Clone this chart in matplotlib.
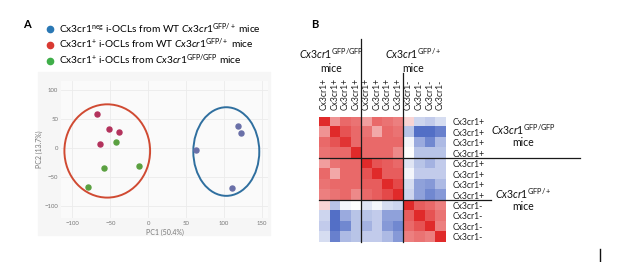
import numpy as np
import matplotlib
matplotlib.use("Agg")
import matplotlib.pyplot as plt
from matplotlib.patches import Ellipse, Rectangle
from matplotlib.lines import Line2D
from matplotlib.colors import LinearSegmentedColormap

plt.rcParams['font.family'] = ['Lato', 'DejaVu Sans']
plt.rcParams['mathtext.fontset'] = 'custom'
plt.rcParams['mathtext.rm'] = 'Lato'
plt.rcParams['mathtext.it'] = 'Lato:italic'
plt.rcParams['mathtext.bf'] = 'Lato:bold'

# --- panel A data (PCA scores) ---
neg_pc1 = [63, 118, 122, 110]
neg_pc2 = [-3, 38, 26, -69]
het_pc1 = [-68, -52, -38, -63]
het_pc2 = [58, 33, 28, 7]
ko_pc1 = [-42, -58, -12, -80]
ko_pc2 = [10, -34, -30, -67]
xticks_a = [-100, -50, 0, 50, 100, 150]
yticks_a = [-100, -50, 0, 50, 100]

# --- panel B data (correlation matrix) ---
row_labels = ['Cx3cr1+'] * 8 + ['Cx3cr1-'] * 4
col_labels = ['Cx3cr1+'] * 8 + ['Cx3cr1-'] * 4
corr = np.array([
    [1.00, 0.50, 0.70, 0.65, 0.45, 0.70, 0.65, 0.60, 0.20, -0.25, -0.30, -0.20],
    [0.50, 1.00, 0.80, 0.70, 0.65, 0.40, 0.70, 0.65, -0.35, -0.85, -0.85, -0.75],
    [0.70, 0.80, 0.95, 0.70, 0.70, 0.70, 0.70, 0.70, -0.05, -0.50, -0.70, -0.40],
    [0.65, 0.70, 0.70, 1.00, 0.70, 0.70, 0.70, 0.55, 0.00, -0.35, -0.35, -0.35],
    [0.45, 0.65, 0.70, 0.70, 1.00, 0.80, 0.75, 0.70, -0.15, -0.35, -0.45, -0.30],
    [0.70, 0.40, 0.70, 0.70, 0.80, 1.00, 0.75, 0.75, -0.05, -0.30, -0.30, -0.30],
    [0.65, 0.70, 0.70, 0.70, 0.75, 0.75, 1.00, 0.85, -0.20, -0.55, -0.60, -0.40],
    [0.60, 0.65, 0.70, 0.55, 0.70, 0.75, 0.85, 1.00, -0.25, -0.55, -0.70, -0.60],
    [0.20, -0.35, -0.05, 0.00, -0.15, -0.05, -0.20, -0.25, 1.00, 0.75, 0.70, 0.60],
    [-0.25, -0.85, -0.50, -0.35, -0.35, -0.30, -0.55, -0.55, 0.75, 1.00, 0.80, 0.65],
    [-0.30, -0.85, -0.70, -0.35, -0.45, -0.30, -0.60, -0.70, 0.70, 0.80, 1.00, 0.60],
    [-0.20, -0.75, -0.40, -0.35, -0.30, -0.30, -0.40, -0.60, 0.60, 0.65, 0.60, 1.00],
])

W, H = 617, 262
fig = plt.figure(figsize=(W / 100, H / 100), dpi=100)


def fx(x):
    return x / W


def fy(y):
    return 1 - y / H


# ---------------- Panel A ----------------
fig.patches.append(Rectangle((fx(38), fy(235)), fx(270) - fx(38), fy(72) - fy(235),
                             transform=fig.transFigure, color='#f6f6f6', zorder=-1))
ax = fig.add_axes([fx(61), fy(218), fx(268) - fx(61), fy(81) - fy(218)])
ax.set_facecolor('#fafafa')
ax.set_xlim(-115, 158)
ax.set_ylim(-120, 115)
ax.set_xticks(xticks_a)
ax.set_yticks(yticks_a)
ax.grid(color='#ebebeb', lw=0.6)
ax.set_axisbelow(True)
for s in ax.spines.values():
    s.set_visible(False)
ax.tick_params(length=0, labelsize=4.3, labelcolor='#777777', pad=2)
ax.set_xlabel('PC1 (50.4%)', fontsize=5, color='#777777', labelpad=2)
ax.set_ylabel('PC2 (13.7%)', fontsize=5, color='#777777', labelpad=1)

ax.scatter(het_pc1, het_pc2, s=13, color='#b3325c', zorder=3)
ax.scatter(ko_pc1, ko_pc2, s=13, color='#5aa040', zorder=3)
ax.scatter(neg_pc1, neg_pc2, s=13, color='#6a70a8', zorder=3)
ax.add_patch(Ellipse((-54, -5), 113, 160, fill=False, ec='#d04a32', lw=1.4))
ax.add_patch(Ellipse((103, -6), 87, 152, fill=False, ec='#2f6f9f', lw=1.4))

handles = [
    Line2D([], [], marker='o', ls='', color='#2a78b4', markersize=4.5),
    Line2D([], [], marker='o', ls='', color='#d93a32', markersize=4.5),
    Line2D([], [], marker='o', ls='', color='#3fae49', markersize=4.5),
]
labels = [
    r'Cx3cr1$^{\mathrm{neg}}$ i-OCLs from WT $\mathit{Cx3cr1}^{\mathrm{GFP/+}}$ mice',
    r'Cx3cr1$^{+}$ i-OCLs from WT $\mathit{Cx3cr1}^{\mathrm{GFP/+}}$ mice',
    r'Cx3cr1$^{+}$ i-OCLs from $\mathit{Cx3cr1}^{\mathrm{GFP/GFP}}$ mice',
]
fig.legend(handles, labels, loc='upper left', bbox_to_anchor=(fx(39), fy(16)),
           frameon=False, fontsize=7.3, handletextpad=0.3, labelspacing=0.12,
           borderpad=0, handlelength=1.2)
fig.text(fx(27), fy(25), 'A', fontsize=8, fontweight='bold', va='center', ha='center')

# ---------------- Panel B ----------------
cmap = LinearSegmentedColormap.from_list('rwb', ['#3656bd', '#ffffff', '#e02a2a'])
axb = fig.add_axes([fx(319), fy(242), fx(445.5) - fx(319), fy(116.7) - fy(242)])
axb.imshow(corr, cmap=cmap, vmin=-1, vmax=1, aspect='auto', interpolation='nearest')
n = len(row_labels)
lc = '#1a1a1a'
axb.plot([3.5, 3.5], [n - 0.5, -7.9], color=lc, lw=0.9, clip_on=False)
axb.plot([7.5, 7.5], [n - 0.5, -4.7], color=lc, lw=0.9, clip_on=False)
axb.plot([-0.5, 24.3], [3.5, 3.5], color=lc, lw=0.9, clip_on=False)
axb.plot([-0.5, 15.8], [7.5, 7.5], color=lc, lw=0.9, clip_on=False)
axb.set_xlim(-0.5, len(col_labels) - 0.5)
axb.set_ylim(n - 0.5, -0.5)
axb.set_xticks(range(len(col_labels)))
axb.set_xticklabels(col_labels, rotation=90, fontsize=6.2)
axb.set_yticks(range(n))
axb.set_yticklabels(row_labels, fontsize=6.2)
axb.xaxis.tick_top()
axb.yaxis.tick_right()
axb.tick_params(length=0, pad=5, labelcolor='#222222')
for s in axb.spines.values():
    s.set_visible(False)

grp_kw = dict(fontsize=7.6, ha='center', va='center', color='#111111')
ko_lab = r'$\mathit{Cx3cr1}^{\mathrm{GFP/GFP}}$'
het_lab = r'$\mathit{Cx3cr1}^{\mathrm{GFP/+}}$'
fig.text(fx(331), fy(54), ko_lab, **grp_kw)
fig.text(fx(331), fy(68), 'mice', **grp_kw)
fig.text(fx(413), fy(54), het_lab, **grp_kw)
fig.text(fx(413), fy(68), 'mice', **grp_kw)
fig.text(fx(523), fy(130), ko_lab, **grp_kw)
fig.text(fx(523), fy(143), 'mice', **grp_kw)
fig.text(fx(523), fy(194), het_lab, **grp_kw)
fig.text(fx(523), fy(207), 'mice', **grp_kw)
fig.text(fx(315), fy(25), 'B', fontsize=8, fontweight='bold', va='center', ha='center')

fig.add_artist(Line2D([fx(600), fx(600)], [fy(249), fy(261)], color='#111111', lw=1.0,
                      transform=fig.transFigure))

fig.savefig('out.png', dpi=100)
